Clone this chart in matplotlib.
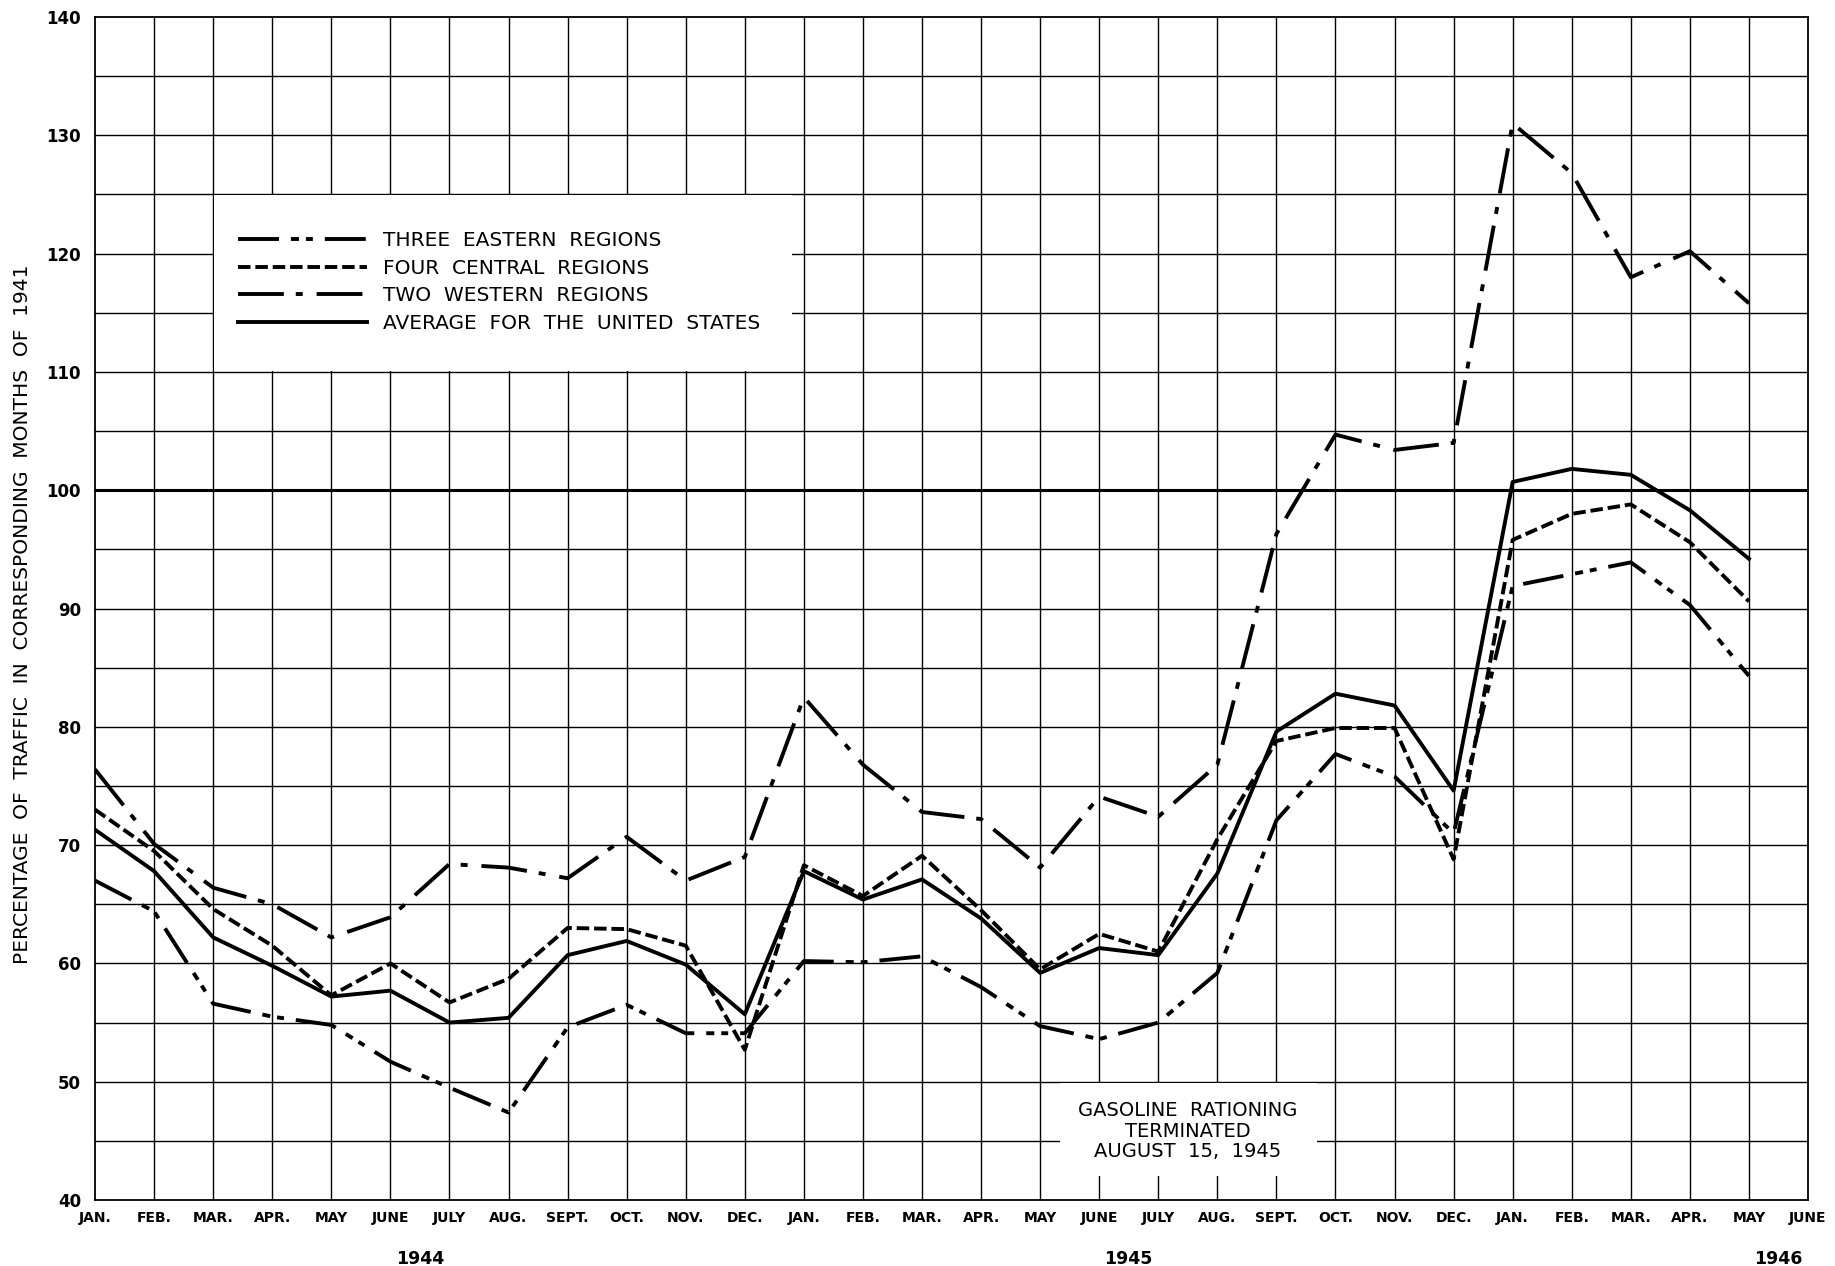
import matplotlib.pyplot as plt
from matplotlib.patches import Rectangle

# Month labels along the bottom (Jan 1944 .. June 1946)
months = [
    "JAN.", "FEB.", "MAR.", "APR.", "MAY", "JUNE", "JULY", "AUG.", "SEPT.", "OCT.", "NOV.", "DEC.",
    "JAN.", "FEB.", "MAR.", "APR.", "MAY", "JUNE", "JULY", "AUG.", "SEPT.", "OCT.", "NOV.", "DEC.",
    "JAN.", "FEB.", "MAR.", "APR.", "MAY", "JUNE",
]
years = ["1944", "1945", "1946"]
year_pos = [5.5, 17.5, 28.5]

# Percentage of traffic in corresponding months of 1941 (Jan 1944 .. May 1946)
eastern = [
    67.0, 64.4, 56.6, 55.5, 54.8, 51.7, 49.5, 47.4, 54.6, 56.5, 54.1, 54.1,
    60.2, 60.1, 60.6, 58.0, 54.7, 53.6, 55.0, 59.2, 72.1, 77.7, 75.8, 71.0,
    91.9, 92.9, 93.9, 90.3, 84.3,
]
central = [
    73.0, 69.5, 64.6, 61.5, 57.3, 60.0, 56.7, 58.7, 63.0, 62.9, 61.5, 52.7,
    68.3, 65.7, 69.1, 64.5, 59.5, 62.5, 61.0, 70.5, 78.8, 79.9, 79.9, 68.8,
    95.8, 98.0, 98.8, 95.6, 90.6,
]
western = [
    76.4, 70.1, 66.4, 65.0, 62.2, 63.9, 68.4, 68.1, 67.2, 70.7, 67.0, 69.0,
    82.5, 76.8, 72.8, 72.2, 68.1, 74.1, 72.4, 76.8, 96.3, 104.7, 103.4, 104.0,
    131.0, 126.8, 118.0, 120.2, 115.8,
]
average = [
    71.3, 67.8, 62.2, 59.8, 57.2, 57.7, 55.0, 55.4, 60.7, 61.9, 59.9, 55.7,
    67.8, 65.4, 67.1, 63.8, 59.2, 61.3, 60.7, 67.6, 79.6, 82.8, 81.8, 74.6,
    100.7, 101.8, 101.3, 98.3, 94.2,
]

labels = [
    "THREE  EASTERN  REGIONS",
    "FOUR  CENTRAL  REGIONS",
    "TWO  WESTERN  REGIONS",
    "AVERAGE  FOR  THE  UNITED  STATES",
]

plt.rcParams["lines.scale_dashes"] = False
plt.rcParams["font.family"] = "DejaVu Sans"

fig = plt.figure(figsize=(18.35, 12.66), dpi=100)
ax = fig.add_axes([0.0518, 0.0521, 0.9335, 0.9345])

ax.set_xlim(0, 29)
ax.set_ylim(40, 140)

# Graph paper grid
for v in range(45, 140, 5):
    ax.axhline(v, color="black", lw=2.2 if v == 100 else 1.0, zorder=1)
for m in range(1, 29):
    ax.axvline(m, color="black", lw=1.0, zorder=1)
for s in ax.spines.values():
    s.set_linewidth(1.3)

# White boxes for legend and note
ax.add_patch(Rectangle((2.02, 110.08), 9.78, 14.84, facecolor="white",
                       edgecolor="none", zorder=2))
ax.add_patch(Rectangle((16.34, 42.0), 4.34, 7.92, facecolor="white",
                       edgecolor="none", zorder=2))

x = list(range(len(average)))
lw = 2.8
ax.plot(x, eastern, color="black", lw=lw, dashes=(29.5, 8.6, 5.8, 5, 5, 8.6),
        label=labels[0], zorder=3)
ax.plot(x, central, color="black", lw=lw, dashes=(9, 3.5),
        label=labels[1], zorder=3)
ax.plot(x, western, color="black", lw=lw, dashes=(33, 8.6, 5, 10),
        label=labels[2], zorder=3)
ax.plot(x, average, color="black", lw=lw, label=labels[3], zorder=3)

leg = ax.legend(loc="center left", bbox_to_anchor=(2.42, 117.6),
                bbox_transform=ax.transData, frameon=False, fontsize=14.5,
                handlelength=6.4, handletextpad=0.8, labelspacing=0.42,
                borderpad=0, borderaxespad=0)
leg.set_zorder(5)

# Note about rationing
ax.text(18.5, 45.8, "GASOLINE  RATIONING\nTERMINATED\nAUGUST  15,  1945",
        ha="center", va="center", fontsize=14, linespacing=1.1, zorder=5)

# Axes labels
ax.set_xticks(range(30))
ax.set_xticklabels(months, fontsize=10, fontweight="bold")
ax.set_yticks(range(40, 141, 10))
ax.set_yticklabels([str(v) for v in range(40, 141, 10)], fontsize=12,
                   fontweight="bold")
ax.tick_params(axis="x", length=0, pad=8)
ax.tick_params(axis="y", length=0, pad=10)

for yr, pos in zip(years, year_pos):
    ax.text(pos, 35.0, yr, ha="center", va="center", fontsize=12.5,
            fontweight="bold", clip_on=False)

fig.text(0.012, 0.515,
         "PERCENTAGE  OF  TRAFFIC  IN  CORRESPONDING  MONTHS  OF  1941",
         rotation=90, ha="center", va="center", fontsize=14.5)

fig.savefig("out.png", dpi=100)
